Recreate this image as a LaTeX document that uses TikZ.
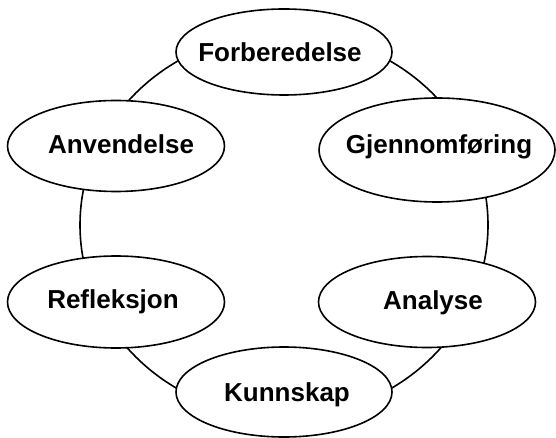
\documentclass[tikz,border=0pt]{standalone}
\usepackage{fontspec}
\setmainfont{Liberation Sans}
\usetikzlibrary{shapes.geometric}
\newcommand\stagelabel[3]{\makebox[0pt]{\kern#1\raisebox{#2}[0pt][0pt]{#3}}}
\begin{document}
\begin{tikzpicture}[x=1pt,y=-1pt,
  stage/.style={ellipse, draw, fill=white, line width=1.6pt, inner sep=0pt,
    font=\fontsize{26}{30}\selectfont\bfseries},
  ring/.style={line width=1.6pt}]
\useasboundingbox (0,0) rectangle (556,438);
\coordinate (ringc) at (284,225);
\draw[ring] (ringc) ellipse [x radius=204pt, y radius=192pt];
\node[stage, minimum width=216pt, minimum height=86pt] (forb) at (284,52)
  {\stagelabel{-8pt}{-9.3pt}{Forberedelse}};
\node[stage, minimum width=236pt, minimum height=104pt] (gjen) at (437,150)
  {\stagelabel{4pt}{-3.3pt}{Gjennomføring}};
\node[stage, minimum width=217pt, minimum height=91pt] (anal) at (427,302)
  {\stagelabel{12pt}{-7.3pt}{Analyse}};
\node[stage, minimum width=216pt, minimum height=90pt] (kunn) at (284,392)
  {\stagelabel{6pt}{-9.3pt}{Kunnskap}};
\node[stage, minimum width=217pt, minimum height=92pt] (refl) at (116,302)
  {\stagelabel{-6pt}{-6.3pt}{Refleksjon}};
\node[stage, minimum width=217pt, minimum height=91pt] (anve) at (116,146)
  {\stagelabel{10pt}{-7.3pt}{Anvendelse}};
\end{tikzpicture}
\end{document}
